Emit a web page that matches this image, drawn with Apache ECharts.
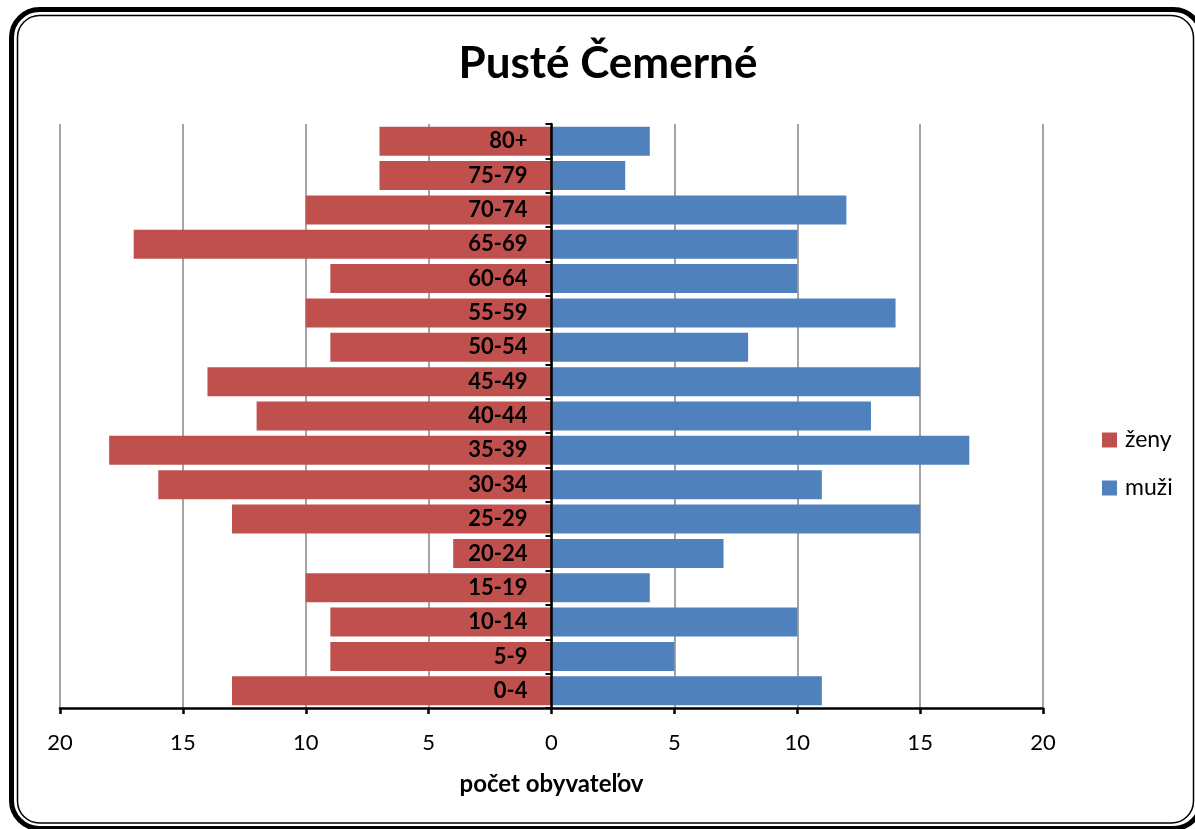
<!DOCTYPE html>
<html>
<head>
<meta charset="utf-8">
<script src="https://cdn.jsdelivr.net/npm/echarts@6/dist/echarts.min.js"></script>
<style>
html,body{margin:0;padding:0;background:#fff;}
#chart{width:1195px;height:829px;}
</style>
</head>
<body>
<div id="chart"></div>
<script>
var categories = ['0-4','5-9','10-14','15-19','20-24','25-29','30-34','35-39','40-44','45-49','50-54','55-59','60-64','65-69','70-74','75-79','80+'];
var zeny = [13, 9, 9, 10, 4, 13, 16, 18, 12, 14, 9, 10, 9, 17, 10, 7, 7];
var muzi = [11, 5, 10, 4, 7, 15, 11, 17, 13, 15, 8, 14, 10, 10, 12, 3, 4];
var xTicks = [-20, -15, -10, -5, 0, 5, 10, 15, 20];

var FONT = 'Lato, "Open Sans", sans-serif';
var chart = echarts.init(document.getElementById('chart'), null, {renderer: 'canvas'});
var gridLeft = 60, gridRight = 152, W = 1195;
var zeroX = gridLeft + (W - gridLeft - gridRight) * (0 - xTicks[0]) / (xTicks[xTicks.length - 1] - xTicks[0]);
var option = {
  backgroundColor: '#fff',
  animation: false,
  title: {
    text: 'Pusté Čemerné',
    left: 603, top: 37, textAlign: 'center',
    textStyle: {fontFamily: FONT, fontSize: 44, fontWeight: 'bold', color: '#000'}
  },
  legend: {
    orient: 'vertical',
    left: 1097, top: 423,
    itemWidth: 15, itemHeight: 15, itemGap: 24,
    icon: 'rect',
    textStyle: {fontFamily: FONT, fontSize: 23, lineHeight: 24, color: '#000', padding: [0,0,0,3]},
    data: ['ženy', 'muži']
  },
  grid: {left: gridLeft, right: gridRight, top: 124, bottom: 121, containLabel: false, outerBoundsMode: 'none'},
  xAxis: {
    type: 'value',
    min: xTicks[0], max: xTicks[xTicks.length - 1], interval: 5,
    name: 'počet obyvateľov',
    nameLocation: 'middle', nameGap: 64,
    nameTextStyle: {fontFamily: FONT, fontSize: 24, fontWeight: 'bold', color: '#000'},
    axisLine: {show: true, onZero: false, lineStyle: {color: '#000', width: 2.5}},
    axisTick: {show: true, length: 6, lineStyle: {color: '#000', width: 2.5}},
    axisLabel: {
      margin: 24, fontFamily: FONT, fontSize: 22, color: '#000',
      formatter: function (v) { return Math.abs(v); }
    },
    splitLine: {show: true, lineStyle: {color: '#868686', width: 1.5}}
  },
  yAxis: {
    type: 'category',
    data: categories,
    z: 10,
    position: 'left',
    offset: -(zeroX - gridLeft),
    axisLine: {show: true, onZero: false, lineStyle: {color: '#000', width: 2.5}},
    axisTick: {show: true, inside: false, length: 6, lineStyle: {color: '#000', width: 2}},
    axisLabel: {margin: 24, fontFamily: FONT, fontSize: 22, fontWeight: 'bold', color: '#000'},
    splitLine: {show: false}
  },
  series: [
    {
      name: 'ženy', type: 'bar',
      data: zeny.map(function (v) { return -v; }),
      barWidth: 29, barGap: '-100%',
      itemStyle: {color: '#C0504D'}
    },
    {
      name: 'muži', type: 'bar',
      data: muzi,
      barWidth: 29, barGap: '-100%',
      itemStyle: {color: '#4F81BD'}
    }
  ],
  graphic: [
    {type: 'rect', z: 100, silent: true,
     shape: {x: 11.5, y: 9.5, width: 1190, height: 819, r: 28},
     style: {fill: 'none', stroke: '#000', lineWidth: 5}},
    {type: 'rect', z: 100, silent: true,
     shape: {x: 17.5, y: 15.5, width: 1176, height: 807.5, r: 22},
     style: {fill: 'none', stroke: '#000', lineWidth: 1.5}}
  ]
};
chart.setOption(option);
</script>
</body>
</html>
